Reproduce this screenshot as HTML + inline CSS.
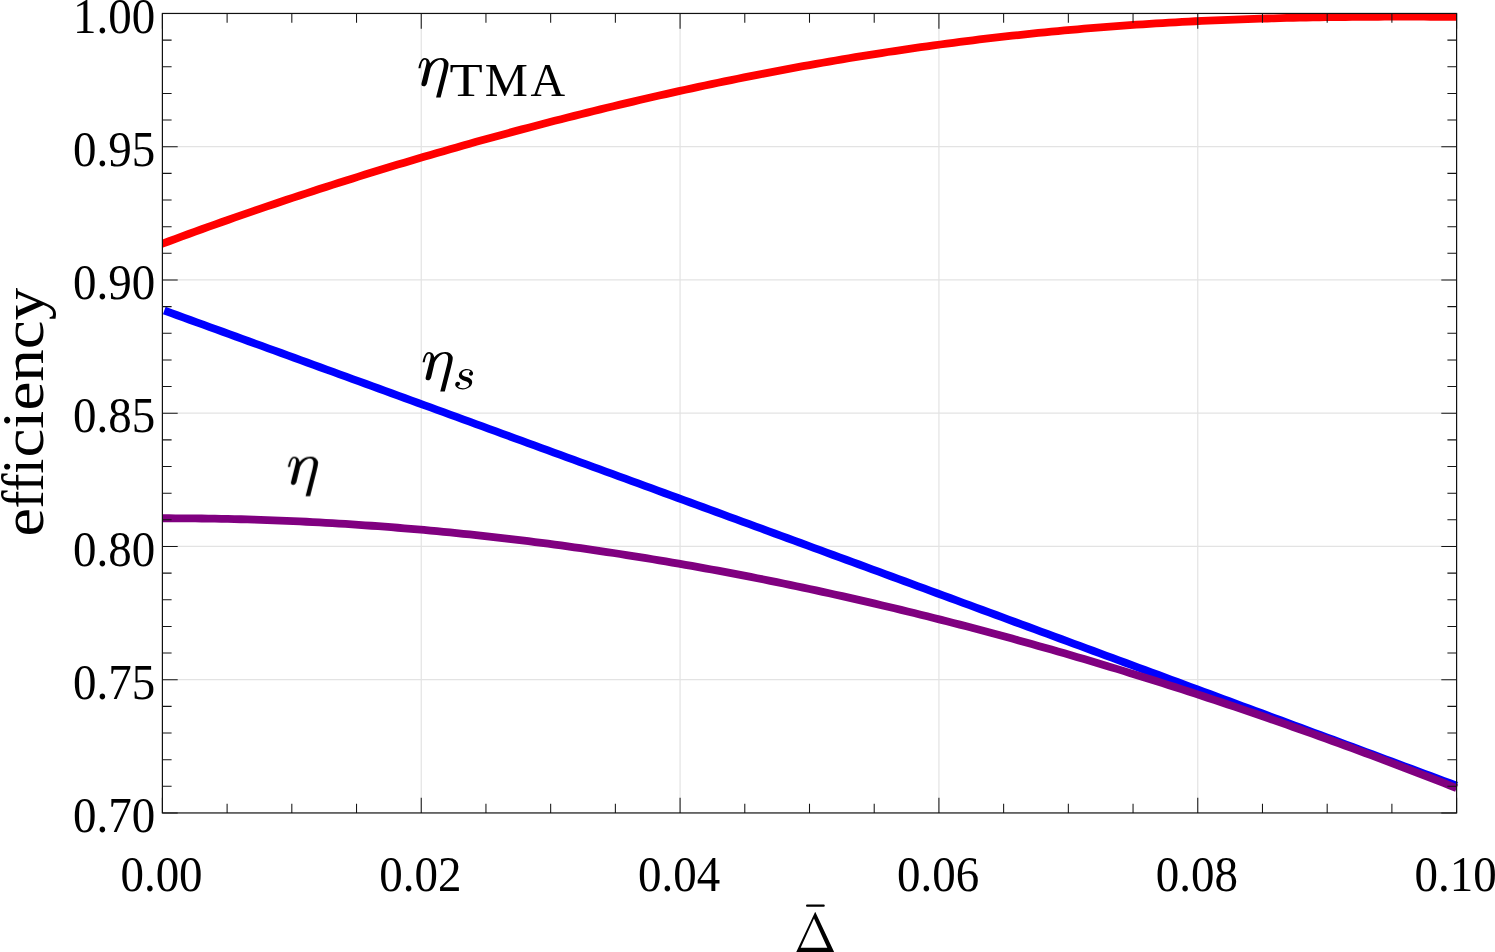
<!DOCTYPE html><html><head><meta charset="utf-8"><title>efficiency</title>
<style>html,body{margin:0;padding:0;background:#fff;}body{width:1495px;height:952px;overflow:hidden;}svg{display:block;}text{font-family:"Liberation Serif",serif;fill:#000;}</style></head><body>
<svg width="1495" height="952" viewBox="0 0 1495 952">
<rect width="1495" height="952" fill="#fff"/>
<path d="M421.24 13.45 V812.95 M680.08 13.45 V812.95 M938.92 13.45 V812.95 M1197.76 13.45 V812.95 M162.40 679.70 H1456.60 M162.40 546.45 H1456.60 M162.40 413.20 H1456.60 M162.40 279.95 H1456.60 M162.40 146.70 H1456.60" stroke="#e3e3e3" stroke-width="1.2" fill="none"/>
<clipPath id="c"><rect x="162.40" y="13.45" width="1400" height="900"/></clipPath>
<g fill="none" stroke-width="7.8" stroke-linejoin="round" clip-path="url(#c)">
<path d="M155.93 246.14 L162.47 243.68 L169.00 241.24 L175.54 238.82 L182.07 236.41 L188.61 234.01 L195.15 231.63 L201.68 229.27 L208.22 226.92 L214.75 224.58 L221.29 222.26 L227.83 219.95 L234.36 217.66 L240.90 215.38 L247.43 213.12 L253.97 210.87 L260.51 208.63 L267.04 206.40 L273.58 204.19 L280.11 201.99 L286.65 199.81 L293.19 197.64 L299.72 195.48 L306.26 193.33 L312.79 191.20 L319.33 189.08 L325.87 186.97 L332.40 184.88 L338.94 182.79 L345.47 180.72 L352.01 178.67 L358.55 176.62 L365.08 174.59 L371.62 172.57 L378.15 170.56 L384.69 168.56 L391.23 166.57 L397.76 164.60 L404.30 162.64 L410.83 160.69 L417.37 158.76 L423.91 156.83 L430.44 154.92 L436.98 153.02 L443.51 151.13 L450.05 149.25 L456.59 147.39 L463.12 145.53 L469.66 143.69 L476.19 141.86 L482.73 140.04 L489.27 138.24 L495.80 136.44 L502.34 134.66 L508.87 132.89 L515.41 131.14 L521.95 129.39 L528.48 127.66 L535.02 125.93 L541.56 124.22 L548.09 122.53 L554.63 120.84 L561.16 119.17 L567.70 117.51 L574.24 115.86 L580.77 114.22 L587.31 112.60 L593.84 110.99 L600.38 109.39 L606.92 107.80 L613.45 106.23 L619.99 104.66 L626.52 103.11 L633.06 101.58 L639.60 100.05 L646.13 98.54 L652.67 97.04 L659.20 95.56 L665.74 94.08 L672.28 92.62 L678.81 91.18 L685.35 89.74 L691.88 88.32 L698.42 86.91 L704.96 85.52 L711.49 84.14 L718.03 82.77 L724.56 81.41 L731.10 80.07 L737.64 78.74 L744.17 77.43 L750.71 76.13 L757.24 74.84 L763.78 73.57 L770.32 72.31 L776.85 71.06 L783.39 69.83 L789.92 68.61 L796.46 67.40 L803.00 66.21 L809.53 65.04 L816.07 63.87 L822.60 62.72 L829.14 61.59 L835.68 60.47 L842.21 59.36 L848.75 58.27 L855.28 57.19 L861.82 56.13 L868.36 55.08 L874.89 54.05 L881.43 53.03 L887.96 52.02 L894.50 51.03 L901.04 50.06 L907.57 49.10 L914.11 48.15 L920.65 47.22 L927.18 46.30 L933.72 45.40 L940.25 44.51 L946.79 43.64 L953.33 42.78 L959.86 41.93 L966.40 41.10 L972.93 40.29 L979.47 39.49 L986.01 38.71 L992.54 37.94 L999.08 37.18 L1005.61 36.44 L1012.15 35.72 L1018.69 35.01 L1025.22 34.31 L1031.76 33.63 L1038.29 32.96 L1044.83 32.31 L1051.37 31.67 L1057.90 31.05 L1064.44 30.44 L1070.97 29.85 L1077.51 29.27 L1084.05 28.71 L1090.58 28.16 L1097.12 27.62 L1103.65 27.10 L1110.19 26.59 L1116.73 26.10 L1123.26 25.62 L1129.80 25.16 L1136.33 24.71 L1142.87 24.27 L1149.41 23.85 L1155.94 23.44 L1162.48 23.04 L1169.01 22.66 L1175.55 22.29 L1182.09 21.94 L1188.62 21.60 L1195.16 21.27 L1201.69 20.95 L1208.23 20.65 L1214.77 20.36 L1221.30 20.08 L1227.84 19.82 L1234.37 19.56 L1240.91 19.32 L1247.45 19.09 L1253.98 18.88 L1260.52 18.67 L1267.05 18.48 L1273.59 18.30 L1280.13 18.12 L1286.66 17.96 L1293.20 17.81 L1299.74 17.67 L1306.27 17.55 L1312.81 17.43 L1319.34 17.32 L1325.88 17.22 L1332.42 17.13 L1338.95 17.05 L1345.49 16.98 L1352.02 16.91 L1358.56 16.86 L1365.10 16.81 L1371.63 16.78 L1378.17 16.75 L1384.70 16.72 L1391.24 16.71 L1397.78 16.70 L1404.31 16.69 L1410.85 16.70 L1417.38 16.71 L1423.92 16.72 L1430.46 16.74 L1436.99 16.77 L1443.53 16.79 L1450.06 16.83 L1456.60 16.86" stroke="#ff0000"/>
<path d="M164.28 310.54 L170.77 312.90 L177.26 315.26 L183.76 317.62 L190.25 319.98 L196.75 322.33 L203.24 324.69 L209.74 327.05 L216.23 329.41 L222.72 331.77 L229.22 334.13 L235.71 336.49 L242.21 338.85 L248.70 341.22 L255.19 343.58 L261.69 345.94 L268.18 348.30 L274.68 350.66 L281.17 353.03 L287.66 355.39 L294.16 357.75 L300.65 360.12 L307.15 362.48 L313.64 364.85 L320.13 367.21 L326.63 369.58 L333.12 371.94 L339.62 374.31 L346.11 376.67 L352.61 379.04 L359.10 381.40 L365.59 383.77 L372.09 386.14 L378.58 388.51 L385.08 390.87 L391.57 393.24 L398.06 395.61 L404.56 397.98 L411.05 400.35 L417.55 402.72 L424.04 405.08 L430.53 407.45 L437.03 409.82 L443.52 412.20 L450.02 414.57 L456.51 416.94 L463.00 419.31 L469.50 421.68 L475.99 424.05 L482.49 426.42 L488.98 428.80 L495.48 431.17 L501.97 433.54 L508.46 435.91 L514.96 438.29 L521.45 440.66 L527.95 443.04 L534.44 445.41 L540.93 447.79 L547.43 450.16 L553.92 452.54 L560.42 454.91 L566.91 457.29 L573.40 459.67 L579.90 462.04 L586.39 464.42 L592.89 466.80 L599.38 469.17 L605.87 471.55 L612.37 473.93 L618.86 476.31 L625.36 478.69 L631.85 481.07 L638.34 483.45 L644.84 485.83 L651.33 488.20 L657.83 490.59 L664.32 492.97 L670.82 495.35 L677.31 497.73 L683.80 500.11 L690.30 502.49 L696.79 504.87 L703.29 507.26 L709.78 509.64 L716.27 512.02 L722.77 514.40 L729.26 516.79 L735.76 519.17 L742.25 521.56 L748.74 523.94 L755.24 526.33 L761.73 528.71 L768.23 531.10 L774.72 533.48 L781.21 535.87 L787.71 538.25 L794.20 540.64 L800.70 543.03 L807.19 545.42 L813.69 547.80 L820.18 550.19 L826.67 552.58 L833.17 554.97 L839.66 557.36 L846.16 559.74 L852.65 562.13 L859.14 564.52 L865.64 566.91 L872.13 569.30 L878.63 571.69 L885.12 574.09 L891.61 576.48 L898.11 578.87 L904.60 581.26 L911.10 583.65 L917.59 586.04 L924.08 588.44 L930.58 590.83 L937.07 593.22 L943.57 595.62 L950.06 598.01 L956.56 600.40 L963.05 602.80 L969.54 605.19 L976.04 607.59 L982.53 609.98 L989.03 612.38 L995.52 614.78 L1002.01 617.17 L1008.51 619.57 L1015.00 621.97 L1021.50 624.36 L1027.99 626.76 L1034.48 629.16 L1040.98 631.56 L1047.47 633.95 L1053.97 636.35 L1060.46 638.75 L1066.95 641.15 L1073.45 643.55 L1079.94 645.95 L1086.44 648.35 L1092.93 650.75 L1099.43 653.15 L1105.92 655.55 L1112.41 657.95 L1118.91 660.36 L1125.40 662.76 L1131.90 665.16 L1138.39 667.56 L1144.88 669.97 L1151.38 672.37 L1157.87 674.77 L1164.37 677.18 L1170.86 679.58 L1177.35 681.99 L1183.85 684.39 L1190.34 686.80 L1196.84 689.20 L1203.33 691.61 L1209.82 694.01 L1216.32 696.42 L1222.81 698.82 L1229.31 701.23 L1235.80 703.64 L1242.30 706.05 L1248.79 708.45 L1255.28 710.86 L1261.78 713.27 L1268.27 715.68 L1274.77 718.09 L1281.26 720.50 L1287.75 722.91 L1294.25 725.32 L1300.74 727.73 L1307.24 730.14 L1313.73 732.55 L1320.22 734.96 L1326.72 737.37 L1333.21 739.78 L1339.71 742.19 L1346.20 744.61 L1352.69 747.02 L1359.19 749.43 L1365.68 751.84 L1372.18 754.26 L1378.67 756.67 L1385.17 759.09 L1391.66 761.50 L1398.15 763.92 L1404.65 766.33 L1411.14 768.75 L1417.64 771.16 L1424.13 773.58 L1430.62 775.99 L1437.12 778.41 L1443.61 780.83 L1450.11 783.24 L1456.60 785.66" stroke="#0000ff"/>
<path d="M155.93 518.28 L162.47 518.26 L169.00 518.26 L175.54 518.28 L182.07 518.31 L188.61 518.35 L195.15 518.42 L201.68 518.49 L208.22 518.58 L214.75 518.69 L221.29 518.81 L227.83 518.95 L234.36 519.10 L240.90 519.27 L247.43 519.45 L253.97 519.65 L260.51 519.86 L267.04 520.09 L273.58 520.33 L280.11 520.59 L286.65 520.86 L293.19 521.15 L299.72 521.45 L306.26 521.77 L312.79 522.10 L319.33 522.44 L325.87 522.81 L332.40 523.18 L338.94 523.57 L345.47 523.98 L352.01 524.40 L358.55 524.83 L365.08 525.28 L371.62 525.75 L378.15 526.23 L384.69 526.72 L391.23 527.23 L397.76 527.75 L404.30 528.29 L410.83 528.84 L417.37 529.41 L423.91 529.99 L430.44 530.58 L436.98 531.19 L443.51 531.82 L450.05 532.45 L456.59 533.11 L463.12 533.77 L469.66 534.45 L476.19 535.15 L482.73 535.86 L489.27 536.58 L495.80 537.32 L502.34 538.07 L508.87 538.84 L515.41 539.62 L521.95 540.42 L528.48 541.23 L535.02 542.05 L541.56 542.89 L548.09 543.74 L554.63 544.60 L561.16 545.48 L567.70 546.37 L574.24 547.28 L580.77 548.20 L587.31 549.14 L593.84 550.08 L600.38 551.05 L606.92 552.02 L613.45 553.01 L619.99 554.02 L626.52 555.04 L633.06 556.07 L639.60 557.11 L646.13 558.17 L652.67 559.24 L659.20 560.33 L665.74 561.43 L672.28 562.54 L678.81 563.67 L685.35 564.81 L691.88 565.96 L698.42 567.13 L704.96 568.31 L711.49 569.51 L718.03 570.71 L724.56 571.93 L731.10 573.17 L737.64 574.42 L744.17 575.68 L750.71 576.95 L757.24 578.24 L763.78 579.54 L770.32 580.86 L776.85 582.18 L783.39 583.52 L789.92 584.88 L796.46 586.25 L803.00 587.63 L809.53 589.02 L816.07 590.43 L822.60 591.85 L829.14 593.28 L835.68 594.72 L842.21 596.18 L848.75 597.66 L855.28 599.14 L861.82 600.64 L868.36 602.15 L874.89 603.67 L881.43 605.21 L887.96 606.76 L894.50 608.32 L901.04 609.89 L907.57 611.48 L914.11 613.08 L920.65 614.69 L927.18 616.32 L933.72 617.96 L940.25 619.61 L946.79 621.27 L953.33 622.95 L959.86 624.64 L966.40 626.34 L972.93 628.05 L979.47 629.78 L986.01 631.52 L992.54 633.27 L999.08 635.04 L1005.61 636.81 L1012.15 638.60 L1018.69 640.40 L1025.22 642.22 L1031.76 644.04 L1038.29 645.88 L1044.83 647.73 L1051.37 649.59 L1057.90 651.47 L1064.44 653.36 L1070.97 655.26 L1077.51 657.17 L1084.05 659.09 L1090.58 661.03 L1097.12 662.98 L1103.65 664.94 L1110.19 666.91 L1116.73 668.89 L1123.26 670.89 L1129.80 672.90 L1136.33 674.92 L1142.87 676.95 L1149.41 679.00 L1155.94 681.05 L1162.48 683.12 L1169.01 685.20 L1175.55 687.29 L1182.09 689.40 L1188.62 691.51 L1195.16 693.64 L1201.69 695.78 L1208.23 697.93 L1214.77 700.09 L1221.30 702.27 L1227.84 704.45 L1234.37 706.65 L1240.91 708.86 L1247.45 711.08 L1253.98 713.31 L1260.52 715.56 L1267.05 717.81 L1273.59 720.08 L1280.13 722.36 L1286.66 724.65 L1293.20 726.95 L1299.74 729.26 L1306.27 731.58 L1312.81 733.92 L1319.34 736.27 L1325.88 738.63 L1332.42 740.99 L1338.95 743.38 L1345.49 745.77 L1352.02 748.17 L1358.56 750.58 L1365.10 753.01 L1371.63 755.45 L1378.17 757.90 L1384.70 760.35 L1391.24 762.82 L1397.78 765.31 L1404.31 767.80 L1410.85 770.30 L1417.38 772.82 L1423.92 775.34 L1430.46 777.88 L1436.99 780.42 L1443.53 782.98 L1450.06 785.55 L1456.60 788.13" stroke="#800080"/>
</g>
<path d="M162.40 812.95 v-15.30 M162.40 13.45 v15.30 M227.11 812.95 v-9.20 M227.11 13.45 v9.20 M291.82 812.95 v-9.20 M291.82 13.45 v9.20 M356.53 812.95 v-9.20 M356.53 13.45 v9.20 M421.24 812.95 v-15.30 M421.24 13.45 v15.30 M485.95 812.95 v-9.20 M485.95 13.45 v9.20 M550.66 812.95 v-9.20 M550.66 13.45 v9.20 M615.37 812.95 v-9.20 M615.37 13.45 v9.20 M680.08 812.95 v-15.30 M680.08 13.45 v15.30 M744.79 812.95 v-9.20 M744.79 13.45 v9.20 M809.50 812.95 v-9.20 M809.50 13.45 v9.20 M874.21 812.95 v-9.20 M874.21 13.45 v9.20 M938.92 812.95 v-15.30 M938.92 13.45 v15.30 M1003.63 812.95 v-9.20 M1003.63 13.45 v9.20 M1068.34 812.95 v-9.20 M1068.34 13.45 v9.20 M1133.05 812.95 v-9.20 M1133.05 13.45 v9.20 M1197.76 812.95 v-15.30 M1197.76 13.45 v15.30 M1262.47 812.95 v-9.20 M1262.47 13.45 v9.20 M1327.18 812.95 v-9.20 M1327.18 13.45 v9.20 M1391.89 812.95 v-9.20 M1391.89 13.45 v9.20 M1456.60 812.95 v-15.30 M1456.60 13.45 v15.30 M162.40 812.95 h15.30 M1456.60 812.95 h-15.30 M162.40 786.30 h9.20 M1456.60 786.30 h-9.20 M162.40 759.65 h9.20 M1456.60 759.65 h-9.20 M162.40 733.00 h9.20 M1456.60 733.00 h-9.20 M162.40 706.35 h9.20 M1456.60 706.35 h-9.20 M162.40 679.70 h15.30 M1456.60 679.70 h-15.30 M162.40 653.05 h9.20 M1456.60 653.05 h-9.20 M162.40 626.40 h9.20 M1456.60 626.40 h-9.20 M162.40 599.75 h9.20 M1456.60 599.75 h-9.20 M162.40 573.10 h9.20 M1456.60 573.10 h-9.20 M162.40 546.45 h15.30 M1456.60 546.45 h-15.30 M162.40 519.80 h9.20 M1456.60 519.80 h-9.20 M162.40 493.15 h9.20 M1456.60 493.15 h-9.20 M162.40 466.50 h9.20 M1456.60 466.50 h-9.20 M162.40 439.85 h9.20 M1456.60 439.85 h-9.20 M162.40 413.20 h15.30 M1456.60 413.20 h-15.30 M162.40 386.55 h9.20 M1456.60 386.55 h-9.20 M162.40 359.90 h9.20 M1456.60 359.90 h-9.20 M162.40 333.25 h9.20 M1456.60 333.25 h-9.20 M162.40 306.60 h9.20 M1456.60 306.60 h-9.20 M162.40 279.95 h15.30 M1456.60 279.95 h-15.30 M162.40 253.30 h9.20 M1456.60 253.30 h-9.20 M162.40 226.65 h9.20 M1456.60 226.65 h-9.20 M162.40 200.00 h9.20 M1456.60 200.00 h-9.20 M162.40 173.35 h9.20 M1456.60 173.35 h-9.20 M162.40 146.70 h15.30 M1456.60 146.70 h-15.30 M162.40 120.05 h9.20 M1456.60 120.05 h-9.20 M162.40 93.40 h9.20 M1456.60 93.40 h-9.20 M162.40 66.75 h9.20 M1456.60 66.75 h-9.20 M162.40 40.10 h9.20 M1456.60 40.10 h-9.20 M162.40 13.45 h15.30 M1456.60 13.45 h-15.30" stroke="#151515" stroke-width="1.05" fill="none"/>
<rect x="162.40" y="13.45" width="1294.20" height="799.50" fill="none" stroke="#111" stroke-width="1.2"/>
<g style="filter:grayscale(1)">
<text transform="translate(161.50 891.3) scale(1 1.083)" font-size="47" text-anchor="middle">0.00</text>
<text transform="translate(420.34 891.3) scale(1 1.083)" font-size="47" text-anchor="middle">0.02</text>
<text transform="translate(679.18 891.3) scale(1 1.083)" font-size="47" text-anchor="middle">0.04</text>
<text transform="translate(938.02 891.3) scale(1 1.083)" font-size="47" text-anchor="middle">0.06</text>
<text transform="translate(1196.86 891.3) scale(1 1.083)" font-size="47" text-anchor="middle">0.08</text>
<text transform="translate(1455.70 891.3) scale(1 1.083)" font-size="47" text-anchor="middle">0.10</text>
<text transform="translate(155.3 832.15) scale(1 1.083)" font-size="47" text-anchor="end">0.70</text>
<text transform="translate(155.3 698.90) scale(1 1.083)" font-size="47" text-anchor="end">0.75</text>
<text transform="translate(155.3 565.65) scale(1 1.083)" font-size="47" text-anchor="end">0.80</text>
<text transform="translate(155.3 432.40) scale(1 1.083)" font-size="47" text-anchor="end">0.85</text>
<text transform="translate(155.3 299.15) scale(1 1.083)" font-size="47" text-anchor="end">0.90</text>
<text transform="translate(155.3 165.90) scale(1 1.083)" font-size="47" text-anchor="end">0.95</text>
<text transform="translate(155.3 32.65) scale(1 1.083)" font-size="47" text-anchor="end">1.00</text>
<text transform="translate(43.4 536.40) rotate(-90) scale(1.034 0.955)" font-size="62">e</text>
<text transform="translate(43.4 508.60) rotate(-90) scale(0.870 0.955)" font-size="62">ffi</text>
<text transform="translate(43.4 457.60) rotate(-90) scale(1.050 0.955)" font-size="62">ciency</text>
<path d="M815.2 911.7 L834.6 953 L795.8 953 Z M814.0 918.6 L800.7 947.8 L827.3 947.8 Z" fill="#000" fill-rule="evenodd"/>
<path d="M807.1 905.7 H823.7" stroke="#000" stroke-width="2.2" stroke-linecap="round"/>
<path transform="translate(275.00 445.00) scale(0.06302)" d="M204 347 C214 290 234 225 264 199 C285 183 322 182 347 195 C372 208 384 237 390 272 C422 232 480 187 560 186 C620 185 667 215 682 265 C688 300 672 360 657 420 L557 812 L485 812 L590 400 C605 340 615 290 605 250 C598 222 575 208 545 212 C490 220 422 282 396 352 L343 575 C336 606 318 634 288 634 C260 634 247 612 254 585 L326 300 C336 256 336 230 322 216 C306 203 285 212 270 236 C254 262 245 305 238 347 Z" fill="#000"/>
<path transform="translate(409.70 340.40) scale(0.06302)" d="M204 347 C214 290 234 225 264 199 C285 183 322 182 347 195 C372 208 384 237 390 272 C422 232 480 187 560 186 C620 185 667 215 682 265 C688 300 672 360 657 420 L557 812 L485 812 L590 400 C605 340 615 290 605 250 C598 222 575 208 545 212 C490 220 422 282 396 352 L343 575 C336 606 318 634 288 634 C260 634 247 612 254 585 L326 300 C336 256 336 230 322 216 C306 203 285 212 270 236 C254 262 245 305 238 347 Z" fill="#000"/>
<path transform="translate(405.50 46.40) scale(0.06302)" d="M204 347 C214 290 234 225 264 199 C285 183 322 182 347 195 C372 208 384 237 390 272 C422 232 480 187 560 186 C620 185 667 215 682 265 C688 300 672 360 657 420 L557 812 L485 812 L590 400 C605 340 615 290 605 250 C598 222 575 208 545 212 C490 220 422 282 396 352 L343 575 C336 606 318 634 288 634 C260 634 247 612 254 585 L326 300 C336 256 336 230 322 216 C306 203 285 212 270 236 C254 262 245 305 238 347 Z" fill="#000"/>
<path transform="translate(450 362) scale(0.03469)" d="M665 325 C665 270 610 205 490 200 C380 198 262 270 256 385 C252 470 330 515 430 545 C500 565 552 590 552 640 C552 700 470 755 375 755 C310 755 250 730 222 690 C260 690 290 660 290 628 C290 595 262 570 225 570 C180 570 150 605 150 650 C150 720 240 790 370 790 C510 790 640 700 640 580 C640 500 570 455 480 430 C400 408 345 390 345 345 C345 285 420 240 495 240 C540 240 575 255 590 280 C565 290 548 312 548 338 C548 370 572 395 605 395 C640 395 665 365 665 325 Z" fill="#000"/>
<text transform="translate(449.40 95.55) scale(1.160 1)" font-size="46.8">T</text>
<text transform="translate(484.80 95.55) scale(1.037 1)" font-size="46.8">M</text>
<text transform="translate(530.40 95.55) scale(1.025 1)" font-size="46.8">A</text>
</g>
</svg></body></html>
